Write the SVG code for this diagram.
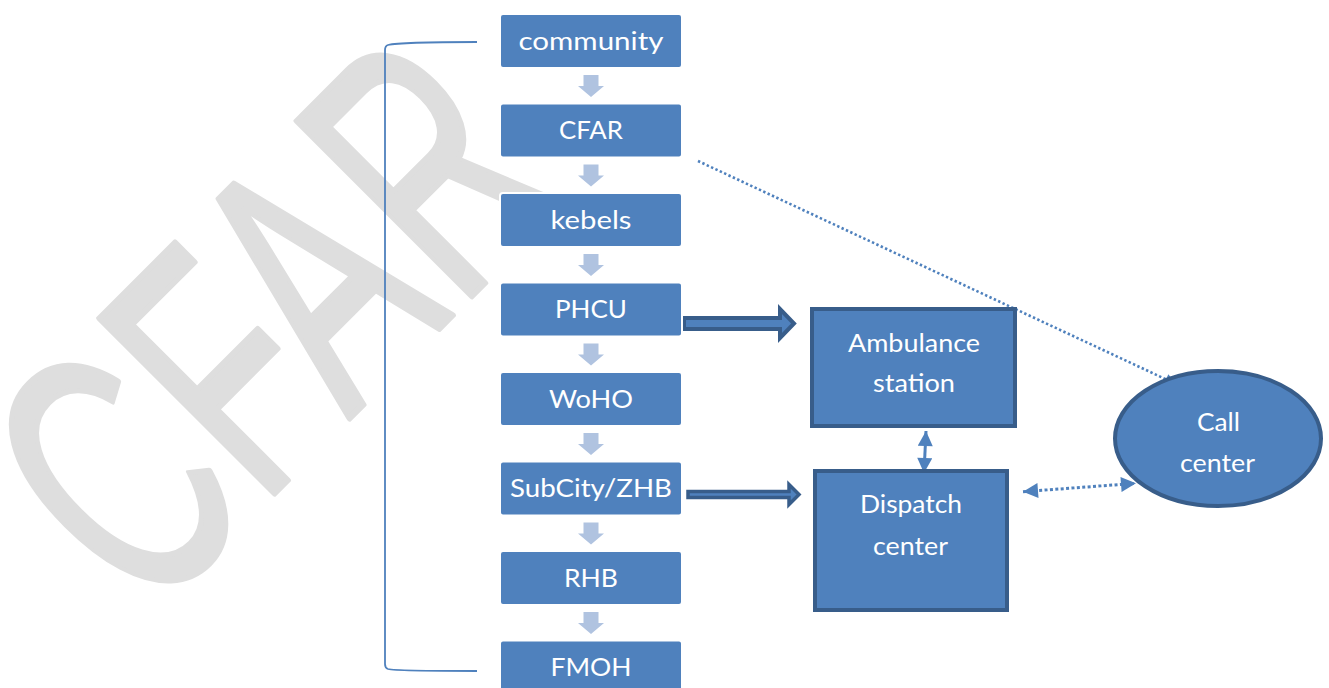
<svg xmlns="http://www.w3.org/2000/svg" width="1329" height="688" viewBox="0 0 1329 688">
<style>
.wm{font-family:"Liberation Sans",Arial,sans-serif;font-size:360px;fill:#DEDEDE;stroke:#DEDEDE;stroke-width:6;stroke-linejoin:round}
.box{fill:#4F81BD;stroke:#FFFFFF;stroke-width:2}
.node{fill:#4F81BD;stroke:#385D8A;stroke-width:4}
.lbl{font-family:"Lato","Liberation Sans",sans-serif;font-size:25px;fill:#FFFFFF;text-anchor:middle}
.down{fill:#B0C3E0}
.blk{fill:#4F81BD;stroke:#385D8A;stroke-width:4;stroke-linejoin:miter}
.dot{fill:none;stroke:#4F81BD;stroke-width:2.6;stroke-dasharray:2.4 2.4}
.dot3{fill:none;stroke:#4F81BD;stroke-width:3;stroke-dasharray:3 2.4}
</style>
<defs>
<marker id="hs" viewBox="0 0 10 10" refX="10" refY="5" markerUnits="userSpaceOnUse" markerWidth="13" markerHeight="11" orient="auto-start-reverse"><path d="M0,0 L10,5 L0,10 Z" fill="#4F81BD"/></marker>
<marker id="hl" viewBox="0 0 10 10" refX="10" refY="5" markerUnits="userSpaceOnUse" markerWidth="16" markerHeight="15" orient="auto-start-reverse"><path d="M0,0 L10,5 L0,10 Z" fill="#4F81BD"/></marker>
</defs>
<rect width="1329" height="688" fill="#FFFFFF"/>
<g id="watermark" transform="translate(146,622) rotate(-45) scale(0.62,1)">
<text class="wm" x="0 262 462 712" y="0">CFAR</text>
</g>
<g id="connectors">
<path d="M477,42 C440,42 396,43 388,45 Q385,46 385,50 L385,664 Q385,668 388,669 C396,671 440,671 477,671" fill="none" stroke="#4F81BD" stroke-width="1.8"/>
<polygon class="down" points="583.5,75 598.5,75 598.5,86 604,86 591,97 578,86 583.5,86"/>
<polygon class="down" points="583.5,164.5 598.5,164.5 598.5,175.5 604,175.5 591,186.5 578,175.5 583.5,175.5"/>
<polygon class="down" points="583.5,254 598.5,254 598.5,265 604,265 591,276 578,265 583.5,265"/>
<polygon class="down" points="583.5,343.5 598.5,343.5 598.5,354.5 604,354.5 591,365.5 578,354.5 583.5,354.5"/>
<polygon class="down" points="583.5,433 598.5,433 598.5,444 604,444 591,455 578,444 583.5,444"/>
<polygon class="down" points="583.5,522.5 598.5,522.5 598.5,533.5 604,533.5 591,544.5 578,533.5 583.5,533.5"/>
<polygon class="down" points="583.5,612 598.5,612 598.5,623 604,623 591,634 578,623 583.5,623"/>
<polygon class="blk" points="684,318 780,318 780,309 794,323.5 780,338 780,329 684,329"/>
<polygon class="blk" style="stroke-width:3.5" points="688,491.5 789,491.5 789,484.5 799,494.5 789,504.5 789,497.5 688,497.5"/>
<line x1="926" y1="431" x2="924" y2="473" stroke="#4F81BD" stroke-width="3" marker-start="url(#hl)" marker-end="url(#hl)"/>
<line class="dot" x1="698" y1="161" x2="1176" y2="384" marker-end="url(#hs)"/>
<line class="dot3" x1="1023" y1="491.7" x2="1136" y2="483.3" marker-start="url(#hl)" marker-end="url(#hl)"/>
</g>
<g id="n-community"><rect class="box" x="500" y="14" width="182" height="54" rx="3"/><text class="lbl" x="591" y="49.5" textLength="145" lengthAdjust="spacingAndGlyphs">community</text></g>
<g id="n-cfar"><rect class="box" x="500" y="103.5" width="182" height="54" rx="3"/><text class="lbl" x="591" y="139" textLength="64" lengthAdjust="spacingAndGlyphs">CFAR</text></g>
<g id="n-kebels"><rect class="box" x="500" y="193" width="182" height="54" rx="3"/><text class="lbl" x="591" y="228.5" textLength="81" lengthAdjust="spacingAndGlyphs">kebels</text></g>
<g id="n-phcu"><rect class="box" x="500" y="282.5" width="182" height="54" rx="3"/><text class="lbl" x="591" y="318" textLength="72" lengthAdjust="spacingAndGlyphs">PHCU</text></g>
<g id="n-woho"><rect class="box" x="500" y="372" width="182" height="54" rx="3"/><text class="lbl" x="591" y="407.5" textLength="84" lengthAdjust="spacingAndGlyphs">WoHO</text></g>
<g id="n-subcity"><rect class="box" x="500" y="461.5" width="182" height="54" rx="3"/><text class="lbl" x="591" y="497" textLength="162" lengthAdjust="spacingAndGlyphs">SubCity/ZHB</text></g>
<g id="n-rhb"><rect class="box" x="500" y="551" width="182" height="54" rx="3"/><text class="lbl" x="591" y="586.5" textLength="54" lengthAdjust="spacingAndGlyphs">RHB</text></g>
<g id="n-fmoh"><rect class="box" x="500" y="640.5" width="182" height="54" rx="3"/><text class="lbl" x="591" y="676" textLength="81" lengthAdjust="spacingAndGlyphs">FMOH</text></g>
<g id="n-ambulance"><rect class="node" x="812" y="309" width="203" height="117"/><text class="lbl" x="914" y="351.5" textLength="132" lengthAdjust="spacingAndGlyphs">Ambulance</text><text class="lbl" x="914" y="391.5" textLength="82" lengthAdjust="spacingAndGlyphs">station</text></g>
<g id="n-dispatch"><rect class="node" x="815" y="471" width="192" height="139"/><text class="lbl" x="911" y="513" textLength="102" lengthAdjust="spacingAndGlyphs">Dispatch</text><text class="lbl" x="910.5" y="555" textLength="75" lengthAdjust="spacingAndGlyphs">center</text></g>
<g id="n-call"><ellipse class="node" cx="1218" cy="438.5" rx="103" ry="67.5"/><text class="lbl" x="1218.5" y="430.5" textLength="43" lengthAdjust="spacingAndGlyphs">Call</text><text class="lbl" x="1217.5" y="471.5" textLength="75" lengthAdjust="spacingAndGlyphs">center</text></g>
</svg>
